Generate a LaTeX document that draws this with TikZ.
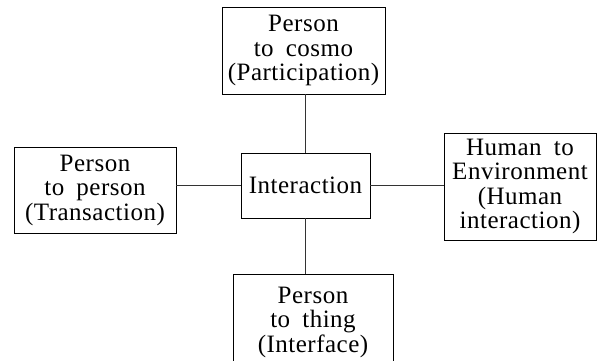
\documentclass[tikz,border=0pt]{standalone}
\usepackage{fontspec}
\setmainfont[LetterSpace=2,WordSpace=1.8]{Liberation Serif}
\usepackage{tikz}

\tikzset{
  box/.style={draw, line width=0.9pt, align=center, inner sep=0pt,
    font=\fontsize{25}{24.5}\selectfont},
  link/.style={line width=0.8pt, draw=black!80}
}

\begin{document}
\begin{tikzpicture}[x=1pt,y=-1pt]
            \useasboundingbox (0,0) rectangle (600,360);

            % Nodes
            \node[box, minimum width=129, minimum height=65] (inter) at (305.5,185.5) {Interaction};
            \node[box, minimum width=163, minimum height=87] (cosmo) at (303.5,50.5) {Person\\to cosmo\\(Participation)};
            \node[box, minimum width=162, minimum height=86] (person) at (95,190) {Person\\to person\\(Transaction)};
            \node[box, minimum width=152, minimum height=107] (env) at (520,186.5) {Human to\\Environment\\(Human\\interaction)};
            \node[box, minimum width=160, minimum height=96] (thing) at (313,322) {Person\\to thing\\(Interface)};

            % Edges
            \draw[link] (inter.north) -- (inter.north |- cosmo.south);
            \draw[link] (inter.west) -- (inter.west -| person.east);
            \draw[link] (inter.east) -- (inter.east -| env.west);
            \draw[link] (inter.south) -- (inter.south |- thing.north);
        \end{tikzpicture}
\end{document}
